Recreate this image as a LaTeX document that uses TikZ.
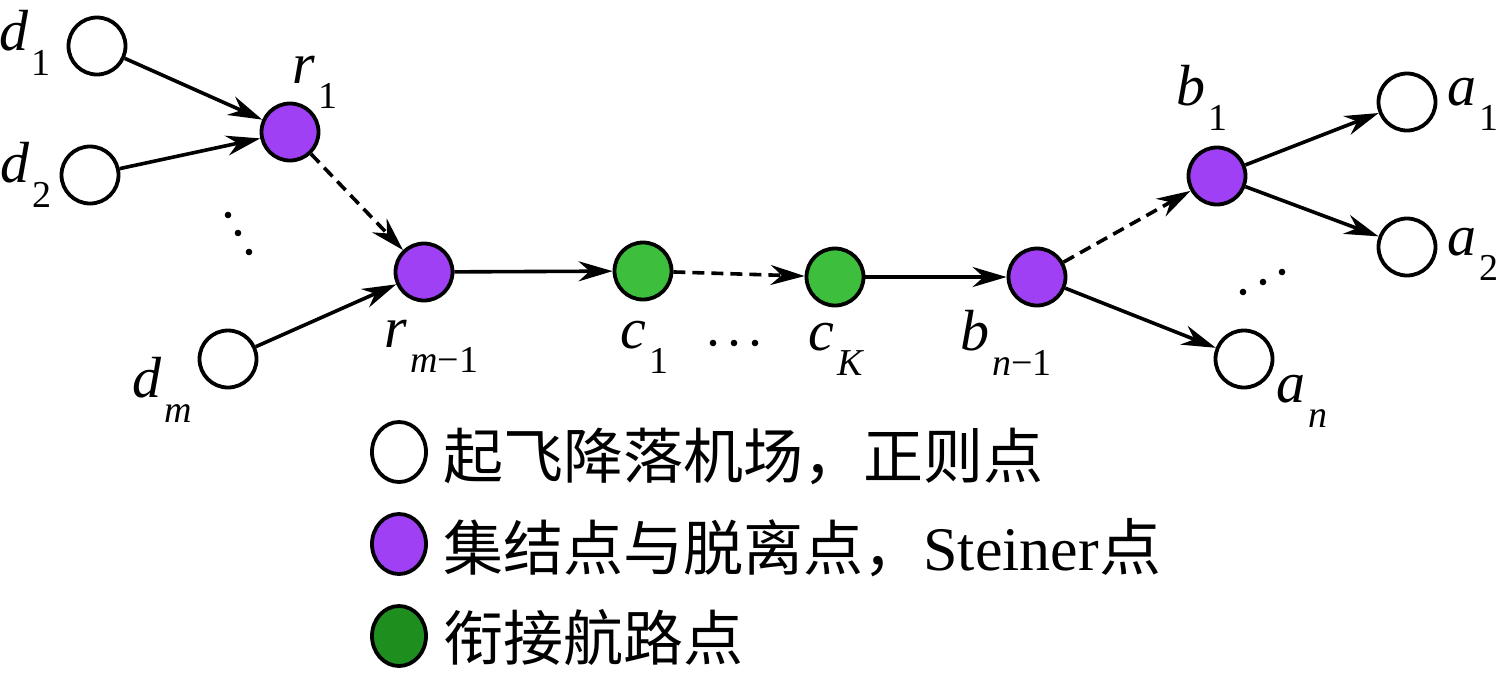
\documentclass[tikz,border=0pt]{standalone}
\usepackage{fontspec}
\setmainfont{Liberation Serif}[ItalicFont={Liberation Serif Italic}]
\newfontfamily\serif{Liberation Serif}[ItalicFont={Liberation Serif Italic}]
\newfontfamily\cjk{Noto Sans CJK SC}
\usetikzlibrary{arrows.meta,shapes.geometric}
\definecolor{vpurple}{HTML}{A040F5}
\definecolor{vgreen}{HTML}{3DBE3D}
\definecolor{lgreen}{HTML}{1E8E1E}
\newcommand{\lbl}[2]{\serif\fontsize{29}{29}\selectfont\textit{#1}\kern1.5pt\raisebox{-12.5pt}{\fontsize{19}{19}\selectfont #2}}
\tikzset{
  pt/.style={circle,draw=black,line width=1.9pt,minimum size=28.5pt,inner sep=0pt},
  wpt/.style={pt,fill=white},
  ppt/.style={pt,fill=vpurple},
  gpt/.style={pt,fill=vgreen},
  lgd/.style={ellipse,draw=black,line width=1.9pt,minimum width=27pt,minimum height=30pt,inner sep=0pt},
  lab/.style={anchor=base west,inner sep=0pt},
  ltext/.style={anchor=west,inner sep=0pt,font=\fontsize{30}{30}\selectfont},
  arr/.style={line width=1.8pt,-{Stealth[length=17pt,width=10pt,inset=5.5pt]}},
  darr/.style={arr,dash pattern=on 6pt off 3.5pt},
  dot/.style={fill=black}
}
\begin{document}
\begin{tikzpicture}[x=0.5pt,y=-0.5pt]
\useasboundingbox (0,0) rectangle (1500,676);
% nodes
\node[wpt] (d1) at (97,46) {};
\node[wpt] (d2) at (90,175) {};
\node[wpt] (dm) at (228,359) {};
\node[ppt] (r1) at (290,132) {};
\node[ppt] (rm) at (424,272) {};
\node[gpt] (c1) at (643,271) {};
\node[gpt] (cK) at (835,277) {};
\node[ppt] (bn) at (1037,277) {};
\node[ppt] (b1) at (1217,176) {};
\node[wpt] (a1) at (1407,102) {};
\node[wpt] (a2) at (1407,247) {};
\node[wpt] (an) at (1244,359) {};
% labels
\node[lab] (ld1) at (-1,50) {\lbl{d}{1}};
\node[lab] (ld2) at (0,182) {\lbl{d}{2}};
\node[lab] (ldm) at (132,397) {\lbl{d}{\textit{m}}};
\node[lab] (lr1) at (292,83) {\lbl{r}{1}};
\node[lab] (lrm) at (384,347) {\lbl{r}{\textit{m}−1}};
\node[lab] (lc1) at (620,348) {\lbl{c}{1}};
\node[lab] (lcK) at (808,350) {\lbl{c}{\textit{K}}};
\node[lab] (lbn) at (960,350) {\lbl{b}{\textit{n}−1}};
\node[lab] (lb1) at (1176,105) {\lbl{b}{1}};
\node[lab] (la1) at (1447,105) {\lbl{a}{1}};
\node[lab] (la2) at (1447,255) {\lbl{a}{2}};
\node[lab] (lan) at (1276,402) {\lbl{a}{\textit{n}}};
% edges
\draw[arr] (d1) -- (r1);
\draw[arr] (d2) -- (r1);
\draw[arr] (dm) -- (rm);
\draw[darr] (r1) -- (rm);
\draw[arr] (rm) -- (c1);
\draw[darr] (c1) -- (cK);
\draw[arr] (cK) -- (bn);
\draw[darr] (bn) -- (b1);
\draw[arr] (bn) -- (an);
\draw[arr] (b1) -- (a1);
\draw[arr] (b1) -- (a2);
% ellipsis dots
\foreach \p in {(228,215),(238,233),(249,252),(713,343),(734,343),(755,343),(1243,292),(1263,282),(1282,272)}
  \fill[dot] \p circle (3.3);
% legend
\node[lgd,fill=white] (lg1) at (399,452) {};
\node[lgd,fill=vpurple] (lg2) at (399,544) {};
\node[lgd,fill=lgreen] (lg3) at (399,636) {};
\node[ltext] (t1) at (443,456) {\cjk 起飞降落机场，正则点};
\node[ltext] (t2) at (443,548) {\cjk 集结点与脱离点，\serif\fontsize{31}{31}\selectfont Steiner\cjk 点};
\node[ltext] (t3) at (443,638) {\cjk 衔接航路点};
\end{tikzpicture}
\end{document}
